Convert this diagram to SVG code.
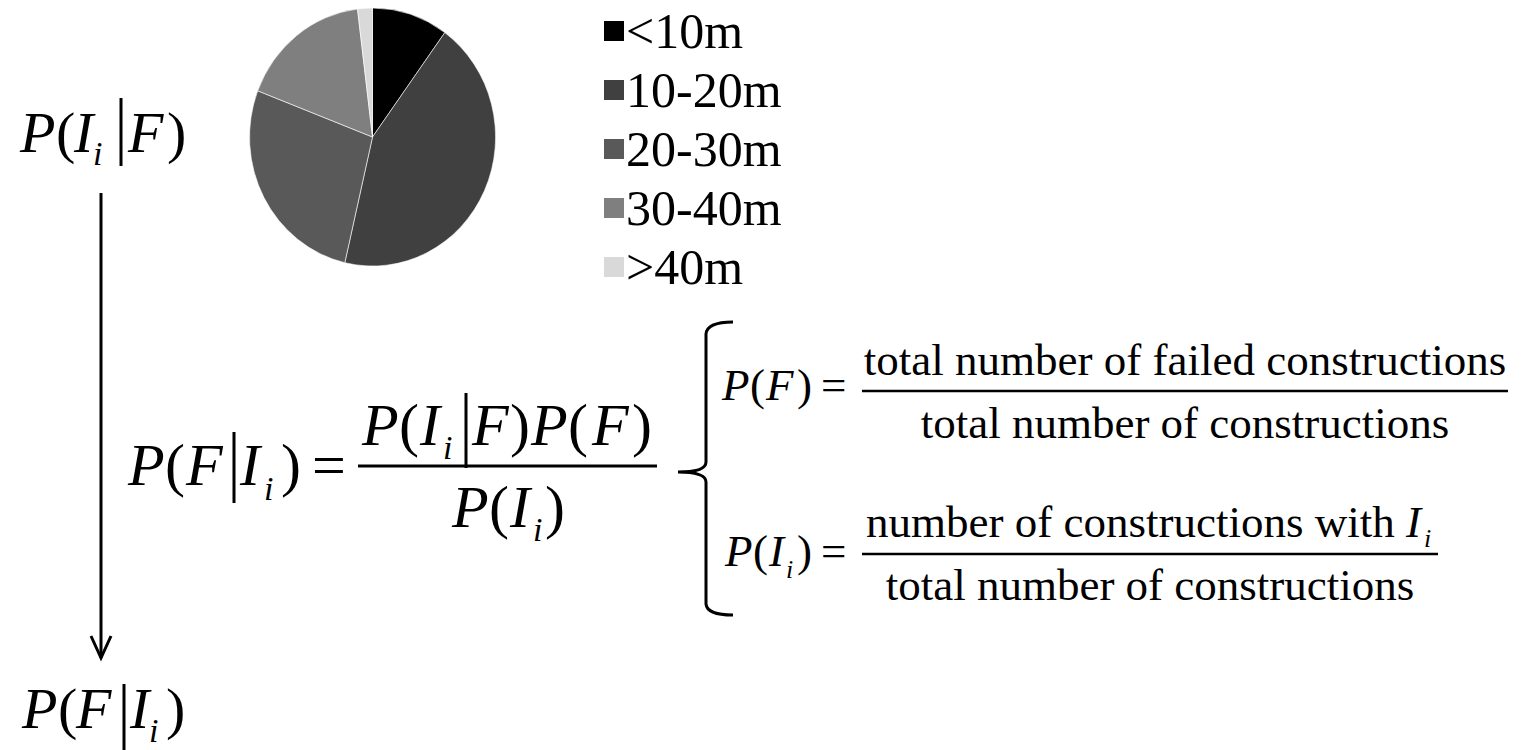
<svg xmlns="http://www.w3.org/2000/svg" width="1522" height="750" viewBox="0 0 1522 750">
<style>
text{font-family:"Liberation Serif","Times New Roman",serif;fill:#000}
.it{font-style:italic}
.m60{font-size:60px}
.m58{font-size:58px}
.m45{font-size:45px}
.sub34{font-size:34px;font-style:italic}
.sub26{font-size:26px;font-style:italic}
.leg{font-size:50px}
.ln{stroke:#000;stroke-width:3;fill:none}
.fl{stroke:#000;stroke-width:2.5;fill:none}
.sl{stroke:#fff;stroke-width:1;stroke-opacity:0.6}
</style>
<rect width="1522" height="750" fill="#fff"/>

<g id="pie">
<path class="sl" fill="#000000" d="M372.5,137 L372.5,8 A123,129 0 0 1 444.8,32.6 Z"/>
<path class="sl" fill="#404040" d="M372.5,137 L444.8,32.6 A123,129 0 0 1 344.8,262.7 Z"/>
<path class="sl" fill="#595959" d="M372.5,137 L344.8,262.7 A123,129 0 0 1 257.7,90.8 Z"/>
<path class="sl" fill="#7f7f7f" d="M372.5,137 L257.7,90.8 A123,129 0 0 1 357.5,9 Z"/>
<path class="sl" fill="#d9d9d9" d="M372.5,137 L357.5,9 A123,129 0 0 1 372.5,8 Z"/>
</g>

<g id="legend">
<rect x="604" y="21" width="20" height="20" fill="#000000"/>
<text class="leg" x="626" y="48">&lt;10m</text>
<rect x="604" y="80" width="20" height="20" fill="#404040"/>
<text class="leg" x="626" y="107">10-20m</text>
<rect x="604" y="139" width="20" height="20" fill="#595959"/>
<text class="leg" x="626" y="166">20-30m</text>
<rect x="604" y="198" width="20" height="20" fill="#7f7f7f"/>
<text class="leg" x="626" y="225">30-40m</text>
<rect x="604" y="257" width="20" height="20" fill="#d9d9d9"/>
<text class="leg" x="626" y="284">&gt;40m</text>
</g>

<g id="node-top">
<text class="m58" y="152"><tspan class="it" x="20">P</tspan><tspan x="56">(</tspan><tspan class="it" x="74">I</tspan></text>
<text class="sub34" x="93" y="165">i</text>
<line class="ln" x1="121" y1="98" x2="121" y2="166"/>
<text class="m58" y="152"><tspan class="it" x="128">F</tspan><tspan x="167">)</tspan></text>
</g>

<g id="node-bottom">
<text class="m58" y="728"><tspan class="it" x="22">P</tspan><tspan x="58">(</tspan><tspan class="it" x="76">F</tspan></text>
<line class="ln" x1="124" y1="684" x2="124" y2="750"/>
<text class="m58 it" x="130" y="728">I</text>
<text class="sub34" x="149" y="742">i</text>
<text class="m58" x="166" y="728">)</text>
</g>

<g id="connectors">
<line class="ln" x1="101" y1="193" x2="101" y2="658"/>
<polyline class="ln" points="91,636 101,658 111,636"/>
</g>

<g id="node-bayes">
<text class="m60" y="485"><tspan class="it" x="128">P</tspan><tspan x="165">(</tspan><tspan class="it" x="186">F</tspan></text>
<line class="ln" x1="234" y1="432" x2="234" y2="503"/>
<text class="m60 it" x="240" y="485">I</text>
<text class="sub34" x="264" y="500">i</text>
<text class="m60" x="281" y="485">)</text>
<text class="m60" x="312" y="485">=</text>
<line class="ln" x1="358" y1="466" x2="657" y2="466"/>
<text class="m60" y="445"><tspan class="it" x="362">P</tspan><tspan x="399">(</tspan><tspan class="it" x="420">I</tspan></text>
<text class="sub34" x="443" y="459">i</text>
<line class="ln" x1="466" y1="393" x2="466" y2="468"/>
<text class="m60" y="445"><tspan class="it" x="472">F</tspan><tspan x="510">)</tspan><tspan class="it" x="531">P</tspan><tspan x="568">(</tspan><tspan class="it" x="592">F</tspan><tspan x="632">)</tspan></text>
<text class="m60" y="527"><tspan class="it" x="452">P</tspan><tspan x="489">(</tspan><tspan class="it" x="510">I</tspan></text>
<text class="sub34" x="533" y="541">i</text>
<text class="m60" x="545" y="527">)</text>
</g>

<g id="brace">
<path class="ln" d="M733,322 Q707,322 706,334 L706,462 Q706,472 678,472 Q706,472 706,482 L706,604 Q707,615 733,615"/>
</g>

<g id="node-pf">
<text class="m45" y="400"><tspan class="it" x="722">P</tspan><tspan x="750">(</tspan><tspan class="it" x="766">F</tspan><tspan x="797">)</tspan><tspan x="821">=</tspan></text>
<line class="fl" x1="862" y1="391" x2="1508" y2="391"/>
<text class="m45" x="1185" y="375" text-anchor="middle">total number of failed constructions</text>
<text class="m45" x="1185" y="438" text-anchor="middle">total number of constructions</text>
</g>

<g id="node-pi">
<text class="m45" y="566"><tspan class="it" x="725">P</tspan><tspan x="753">(</tspan><tspan class="it" x="769">I</tspan></text>
<text class="sub26" x="786" y="578">i</text>
<text class="m45" y="566"><tspan x="797">)</tspan><tspan x="821">=</tspan></text>
<line class="fl" x1="862" y1="554" x2="1438" y2="554"/>
<text class="m45" y="537"><tspan x="866">number of constructions with </tspan><tspan class="it">I</tspan></text>
<text class="sub26" x="1424" y="547">i</text>
<text class="m45" x="1150" y="600" text-anchor="middle">total number of constructions</text>
</g>
</svg>
